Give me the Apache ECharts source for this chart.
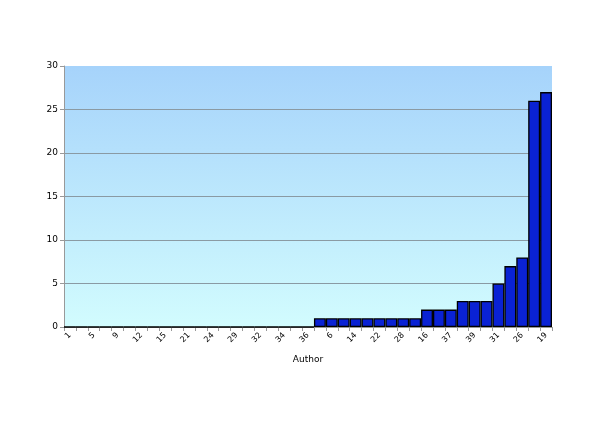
<!DOCTYPE html>
<html><head><meta charset="utf-8">
<script src="https://cdn.jsdelivr.net/npm/echarts@6/dist/echarts.min.js"></script>
<style>html,body{margin:0;padding:0;background:#fff}#c{width:600px;height:424px}</style>
</head><body><div id="c"></div>
<script>
const authors = ['1','2','5','7','9','10','12','13','15','17','21','23','24','25','29','30','32','33','34','35','36',
  '3','6','8','14','18','22','27','28','38','16','20','37','11','39','40','31','4','26','41','19'];
const counts = [0,0,0,0,0,0,0,0,0,0,0,0,0,0,0,0,0,0,0,0,0,
  1,1,1,1,1,1,1,1,1,2,2,2,3,3,3,5,7,8,26,27];
const yTicks = {min:0, max:30, interval:5};

const chart = echarts.init(document.getElementById('c'), null, {renderer:'canvas'});
chart.setOption({
  animation:false,
  grid:{left:64, right:48, top:66, bottom:97, show:true, borderWidth:0,
    backgroundColor:new echarts.graphic.LinearGradient(0,0,0,1,[{offset:0,color:'#a6d3fb'},{offset:1,color:'#d2fcfe'}])},
  xAxis:{type:'category', data:authors, name:'Author', nameLocation:'middle', nameGap:28,
    nameTextStyle:{fontSize:9, color:'#000', fontFamily:'DejaVu Sans'},
    axisLine:{lineStyle:{color:'#999', width:1}},
    axisTick:{show:true, interval:0, length:4, lineStyle:{color:'#999'}},
    axisLabel:{interval:1, rotate:45, fontSize:8, color:'#000', margin:7, fontFamily:'DejaVu Sans'}},
  yAxis:{type:'value', min:yTicks.min, max:yTicks.max, interval:yTicks.interval,
    axisLine:{show:true, lineStyle:{color:'#999'}},
    axisTick:{show:true, length:4, lineStyle:{color:'#999'}},
    splitLine:{show:true, lineStyle:{color:['#8a9aa3','#8a9aa3','#8a9aa3','#8a9aa3','#8a9aa3','#8a9aa3','rgba(0,0,0,0)'], width:1}},
    axisLabel:{fontSize:9, color:'#000', margin:6, fontFamily:'DejaVu Sans'}},
  series:[{type:'bar', data:counts, barCategoryGap:'0%',
    itemStyle:{color:'#0a22d4', borderColor:'#000', borderWidth:1.3}}]
});
</script></body></html>
